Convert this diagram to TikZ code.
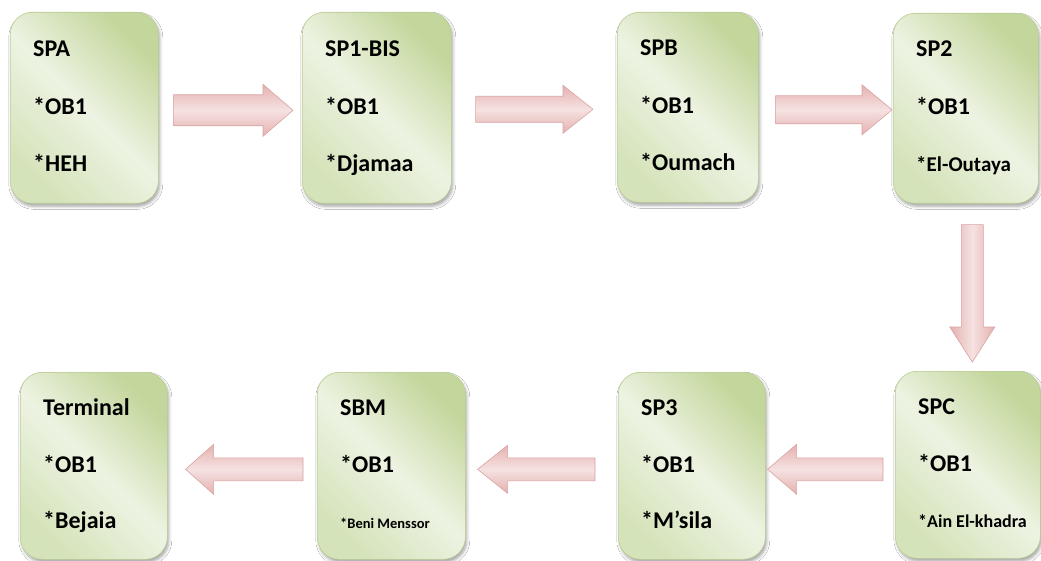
\documentclass[tikz,border=0pt]{standalone}
\usepackage{fontspec}
\setmainfont{Carlito}
\usetikzlibrary{calc,shadows.blur}

\definecolor{boxdark}{HTML}{C3D69B}
\definecolor{boxlight}{HTML}{EDF3E2}
\definecolor{boxmid}{HTML}{D5E3BA}
\definecolor{boxedge}{HTML}{BBCF92}
\definecolor{arrdark}{HTML}{E4B1B0}
\definecolor{arrlight}{HTML}{F5E2E1}
\definecolor{arredge}{HTML}{DAA3A2}

\tikzset{
  station/.style={rectangle, rounded corners=22pt, draw=boxedge, line width=0.6pt,
    top color=boxdark, bottom color=boxmid, middle color=boxlight, shading angle=-45,
    inner sep=0pt, anchor=north west,
    blur shadow={shadow xshift=1.5pt, shadow yshift=-3pt, shadow blur radius=3pt, shadow opacity=35}},
  stationtext/.style={anchor=base west, inner sep=0pt, text=black,
    font=\bfseries\fontsize{24}{28}\selectfont},
  blockarrow/.style={draw=arredge, line width=0.6pt, line join=miter,
    top color=arrdark, bottom color=arrdark, middle color=arrlight},
  blockarrowv/.style={blockarrow, shading angle=90}
}

% one station: name, x, y, width, height, title, size of last line, last line
\newcommand\station[8]{%
  \node[station, minimum width=#4pt, minimum height=#5pt] (#1) at (#2,#3) {};
  \node[stationtext] (#1-title) at ($(#1.north west)+(23,0.231*#5)$) {#6};
  \node[stationtext] (#1-ob) at ($(#1.north west)+(23,0.536*#5)$) {*OB1};
  \node[stationtext, font=\bfseries\fontsize{#7}{#7}\selectfont] (#1-place)
    at ($(#1.north west)+(23,0.836*#5)$) {#8};
}

% horizontal block arrow from tail coordinate to tip coordinate
% shaft half width, head half width, head length
\newcommand\blockh[5]{%
  \draw[blockarrow] let \p1=(#1), \p2=(#2), \n1={ifthenelse(\x2>\x1,1,-1)} in
    (\x1,\y2+#3) -- ({\x2-\n1*#5},\y2+#3) -- ({\x2-\n1*#5},\y2+#4) -- (\x2,\y2)
    -- ({\x2-\n1*#5},\y2-#4) -- ({\x2-\n1*#5},\y2-#3) -- (\x1,\y2-#3) -- cycle;}

% vertical block arrow (pointing down the page)
\newcommand\blockv[5]{%
  \draw[blockarrowv] let \p1=(#1), \p2=(#2) in
    (\x2+#3,\y1) -- (\x2+#3,\y2+#5) -- (\x2+#4,\y2+#5) -- (\x2,\y2)
    -- (\x2-#4,\y2+#5) -- (\x2-#3,\y2+#5) -- (\x2-#3,\y1) -- cycle;}

\begin{document}
\begin{tikzpicture}[x=1pt,y=-1pt]
  \fill[white] (0,0) rectangle (1041,561);
  \useasboundingbox (0,0) rectangle (1041,561);

  % upper row
  \station{spa}{10}{12}{148}{191}{SPA}{24}{*HEH}
  \station{sp1}{302}{12}{149}{191}{SP1-BIS}{24}{*Djamaa}
  \station{spb}{617}{12}{141}{190}{SPB}{24}{*Oumach}
  \station{sp2}{893}{13}{145}{190}{SP2}{21}{*El-Outaya}

  % lower row
  \station{term}{20}{372}{147}{187}{Terminal}{24}{*Bejaia}
  \station{sbm}{317}{372}{148}{187}{SBM}{14.5}{*Beni Menssor}
  \station{sp3}{618}{372}{147}{187}{SP3}{24}{*M’sila}
  \station{spc}{895}{371}{145}{187}{SPC}{18}{*Ain El-khadra}

  % arrow ends
  \coordinate (a1s) at ($(spa.east)+(15,2.5)$);
  \coordinate (a1e) at ($(sp1.west)+(-9,2.5)$);
  \coordinate (a2s) at ($(sp1.east)+(24,2)$);
  \coordinate (a2e) at ($(spb.west)+(-24,2)$);
  \coordinate (a3s) at ($(spb.east)+(17,2)$);
  \coordinate (a3e) at ($(sp2.west)+(-1,1.5)$);
  \coordinate (a4s) at ($(sp2.south)+(6.5,21)$);
  \coordinate (a4e) at ($(spc.north)+(4.5,-9)$);
  \coordinate (a5s) at ($(spc.west)+(-12,3.5)$);
  \coordinate (a5e) at ($(sp3.east)+(2,3.5)$);
  \coordinate (a6s) at ($(sp3.west)+(-23,3.5)$);
  \coordinate (a6e) at ($(sbm.east)+(12,3.5)$);
  \coordinate (a7s) at ($(sbm.west)+(-14,3.5)$);
  \coordinate (a7e) at ($(term.east)+(18,3.5)$);

  % flow arrows
  \blockh{a1s}{a1e}{15.5pt}{26pt}{30pt}
  \blockh{a2s}{a2e}{13pt}{24pt}{30pt}
  \blockh{a3s}{a3e}{14pt}{25pt}{30pt}
  \blockv{a4s}{a4e}{11pt}{22.5pt}{35pt}
  \blockh{a5s}{a5e}{11.5pt}{25pt}{29pt}
  \blockh{a6s}{a6e}{11.5pt}{24pt}{30pt}
  \blockh{a7s}{a7e}{11.5pt}{25pt}{28pt}
\end{tikzpicture}
\end{document}
